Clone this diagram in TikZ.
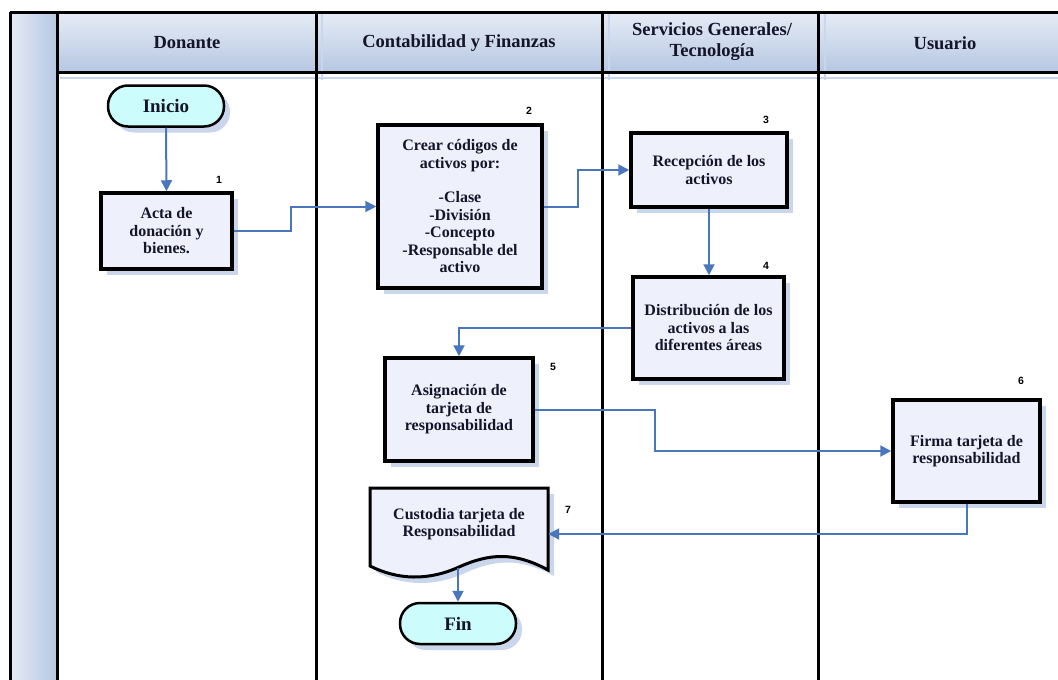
\documentclass[tikz,border=0pt]{standalone}
\usepackage{fontspec}
\setmainfont{Liberation Serif}
\newfontfamily\numfont{Liberation Sans}
\usetikzlibrary{shadows,arrows.meta,calc}
\definecolor{flow}{HTML}{4A76BE}
\definecolor{boxfill}{HTML}{EEF0FC}
\definecolor{termfill}{HTML}{CCFCFC}
\definecolor{shad}{HTML}{CAD6EC}
\definecolor{hdtop}{HTML}{E6ECF6}
\definecolor{hdbot}{HTML}{B6C7E2}
\definecolor{txt}{HTML}{15152A}
\begin{document}
\begin{tikzpicture}[x=1pt,y=-1pt,
  procbox/.style={draw=black, line width=3.5pt, fill=boxfill, align=center,
    text=txt, font=\bfseries\fontsize{16}{17.5}\selectfont, inner sep=0pt,
    drop shadow={shadow xshift=6pt, shadow yshift=-6pt, fill=shad, opacity=1}},
  termbox/.style={draw=black, line width=2.5pt, fill=termfill, align=center,
    text=txt, font=\bfseries\fontsize{19}{20}\selectfont, inner sep=0pt,
    minimum width=116pt, minimum height=41pt, rounded corners=20pt,
    drop shadow={shadow xshift=6pt, shadow yshift=-6pt, fill=shad, opacity=1}},
  hdr/.style={align=center, text=txt, font=\bfseries\fontsize{18.5}{21}\selectfont},
  numlbl/.style={font=\numfont\bfseries\fontsize{10.5}{11}\selectfont, text=black},
  flowline/.style={draw=flow, line width=2pt, -{Triangle[length=11pt,width=11pt]}},
  lane/.style={draw=black, line width=3pt},
  laneshad/.style={draw=shad, line width=2pt}
]
\useasboundingbox (0,0) rectangle (1058,680);
% header and left strip backgrounds
\shade[left color=hdtop, right color=hdbot] (10,12) rectangle (57,680);
\shade[top color=hdtop, bottom color=hdbot] (57,12) rectangle (1058,72);
% header shadows
\draw[laneshad] (60,78) -- (1058,78);
\draw[laneshad] (322,14) -- (322,80);
\draw[laneshad] (609,14) -- (609,80);
\draw[laneshad] (825,14) -- (825,80);
% frame and lanes
\draw[lane] (10,12) -- (1058,12);
\draw[lane] (10,12) -- (10,680);
\draw[lane] (57,12) -- (57,680);
\draw[lane] (57,72) -- (1058,72);
\draw[lane] (316,12) -- (316,680);
\draw[lane] (602,12) -- (602,680);
\draw[lane] (818,12) -- (818,680);
% headers
\node[hdr] (h1) at (187,43) {Donante};
\node[hdr] (h2) at (459,43) {Contabilidad y Finanzas};
\node[hdr] (h3) at (712,42) {Servicios Generales/\\Tecnología};
\node[hdr] (h4) at (945,43) {Usuario};
% nodes
\node[termbox] (inicio) at (166,106) {Inicio};
\node[procbox, minimum width=131pt, minimum height=76pt] (acta) at (166.5,231) {Acta de\\donación y\\bienes.};
\node[procbox, minimum width=164pt, minimum height=163pt] (crear) at (460,206.5) {Crear códigos de\\activos por:\\[17pt]-Clase\\-División\\-Concepto\\-Responsable del\\activo};
\node[procbox, minimum width=156pt, minimum height=74pt] (recep) at (709,170) {Recepción de los\\activos};
\node[procbox, minimum width=151pt, minimum height=102pt] (dist) at (708.5,328) {Distribución de los\\activos a las\\diferentes áreas};
\node[procbox, minimum width=148pt, minimum height=103pt] (asig) at (459,409.5) {Asignación de\\tarjeta de\\responsabilidad};
\node[procbox, minimum width=147pt, minimum height=102pt] (firma) at (966.5,451) {Firma tarjeta de\\responsabilidad};
% document shape
\fill[shad] (376,494) -- (554,494) -- (554,576) .. controls (521,558) and (496,559) .. (465,573) .. controls (434,587) and (404,586) .. (376,572) -- cycle;
\draw[line width=3pt, fill=boxfill] (370,488) -- (548,488) -- (548,570) .. controls (515,552) and (490,553) .. (459,567) .. controls (428,581) and (398,580) .. (370,566) -- cycle;
\node[minimum width=178pt, minimum height=80pt, inner sep=0pt] (cust) at (459,528) {};
\node[align=center, text=txt, font=\bfseries\fontsize{16}{17.5}\selectfont] (custtxt) at (459,524) {Custodia tarjeta de\\Responsabilidad};
\node[termbox] (fin) at (458,623.5) {Fin};
% numbers
\node[numlbl] (n1) at (219,180) {1};
\node[numlbl] (n2) at (529,111) {2};
\node[numlbl] (n3) at (766,120) {3};
\node[numlbl] (n4) at (766,266) {4};
\node[numlbl] (n5) at (553,367) {5};
\node[numlbl] (n6) at (1021,381) {6};
\node[numlbl] (n7) at (568,510) {7};
% connectors
\draw[flowline] (inicio.south) -- (acta.north);
\draw[flowline] (acta.east) -- ++(57,0) |- (crear.west);
\draw[flowline] (crear.east) -- ++(34,0) |- (recep.west);
\draw[flowline] (recep.south) -- (recep.south |- dist.north);
\draw[flowline] (dist.west) -| (asig.north);
\draw[flowline] (asig.east) -- ++(120,0) |- (firma.west);
\draw[flowline] (firma.south) |- ([yshift=-6pt]cust.east);
\draw[flowline] (cust.south -| fin.north) -- (fin.north);
\end{tikzpicture}
\end{document}
